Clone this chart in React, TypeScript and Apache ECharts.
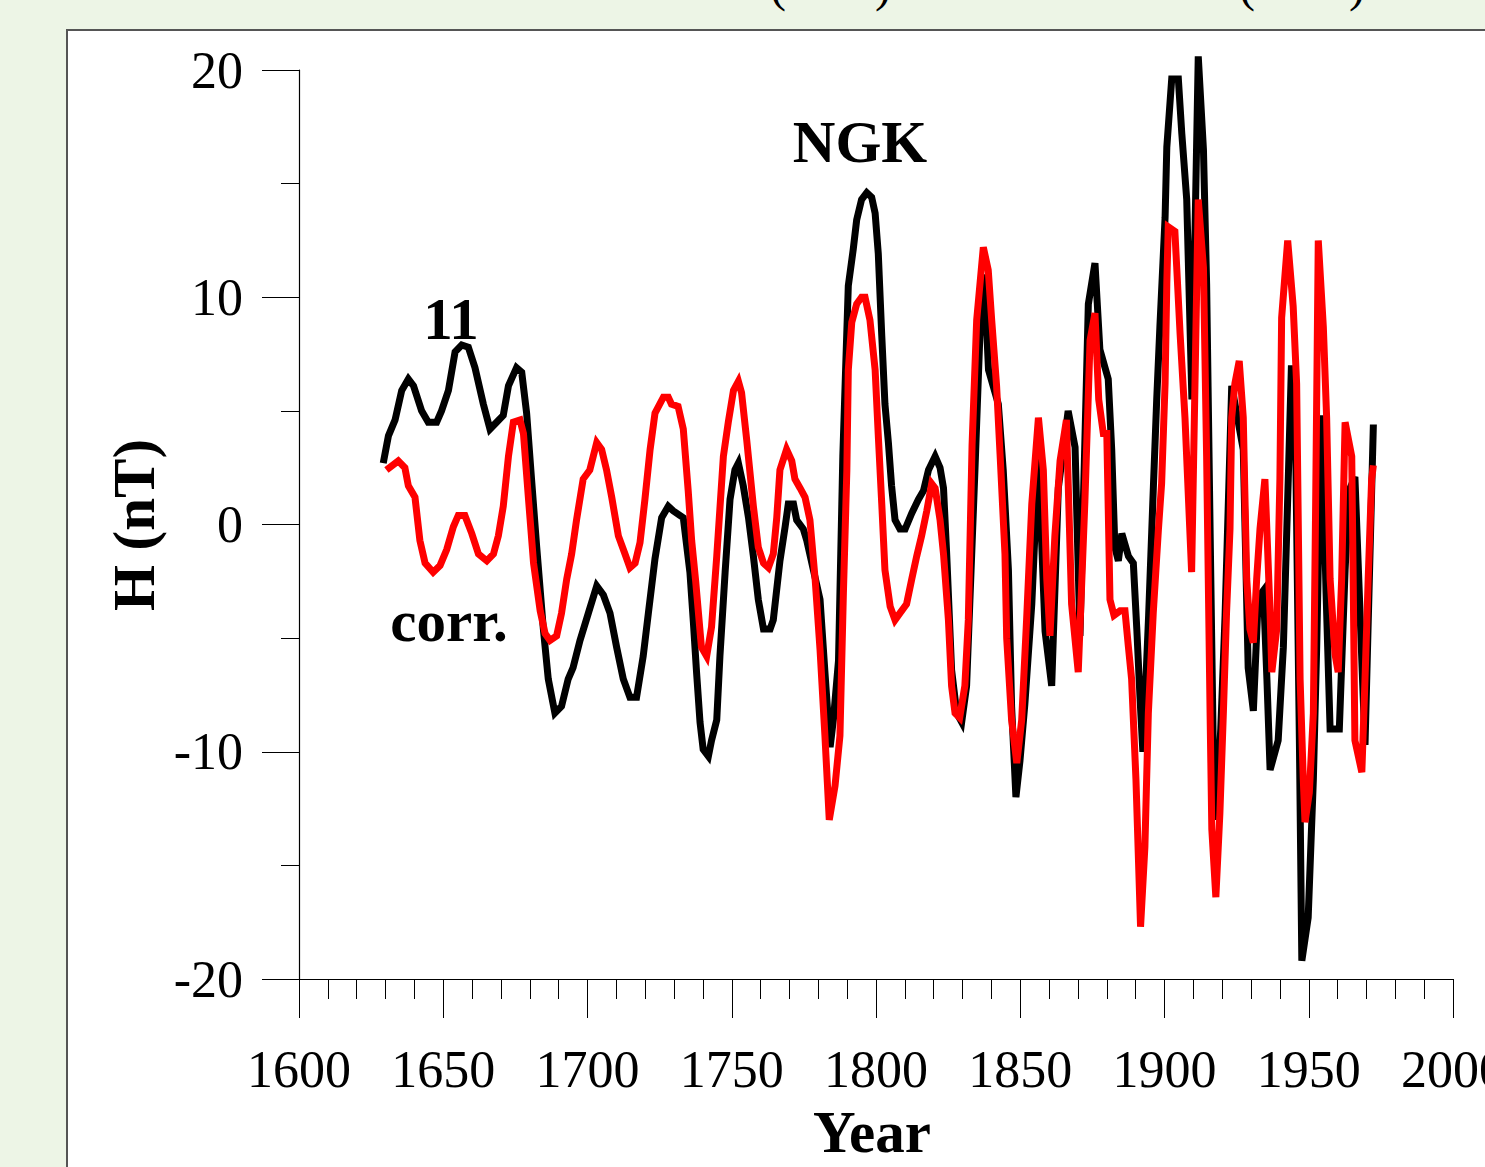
import React, { useEffect, useRef } from "react";
import * as echarts from "echarts";

const xTicks = { min: 1600, max: 2000, interval: 50 };
const yTicks = { min: -20, max: 20, interval: 10 };

const blackYears = [
  1629.2, 1631, 1633.3, 1635.6, 1637.9, 1639.7, 1642.5, 1644.8, 1647.7, 1649.4,
  1651.8, 1654.1, 1656.4, 1658.7, 1661, 1663.9, 1666.2, 1668.5, 1670.8, 1672.6,
  1675.4, 1677.2, 1678.9, 1680.6, 1682.4, 1684.7, 1686.4, 1688.7, 1691, 1693.3,
  1695, 1697.4, 1700.3, 1703.2, 1705.5, 1707.8, 1710.1, 1712.4, 1714.7, 1717,
  1719.3, 1721.1, 1723.4, 1725.7, 1728, 1729.7, 1732, 1733.2, 1735.5, 1736.7,
  1737.8, 1739, 1740.1, 1741.9, 1743, 1744.8, 1745.9, 1747.7, 1749.4, 1751.1,
  1752.3, 1754, 1755.8, 1757.5, 1759.2, 1761, 1763.3, 1764.4, 1766.7, 1768.5,
  1769.6, 1771.4, 1772.5, 1774.8, 1776, 1778.3, 1780.6, 1782.3, 1784.1, 1785.3,
  1787, 1788.5, 1790.4, 1792.1, 1793.3, 1795, 1796.8, 1798.5, 1799.7, 1800.8,
  1802, 1803.1, 1804.3, 1805.4, 1806.6, 1808.3, 1810.1, 1812.4, 1814.7, 1816.5,
  1818.2, 1820.5, 1822.2, 1823.4, 1824.5, 1826.2, 1828, 1829.7, 1831.4, 1832.5,
  1834.3, 1836, 1837.5, 1839, 1842.4, 1844.1, 1845.9, 1847, 1848.5, 1849.9,
  1851.6, 1854, 1856.3, 1858.6, 1860.9, 1863.2, 1866.6, 1869, 1870.7, 1873.6,
  1875.9, 1877.6, 1880.5, 1881.7, 1882.8, 1884, 1885.2, 1887.5, 1889.2, 1890.4,
  1891.5, 1892.5, 1894.5, 1896.1, 1897.3, 1898.4, 1900.2, 1900.8, 1902.5, 1904.8,
  1906, 1907.7, 1909.5, 1911.7, 1913.5, 1914.6, 1915.8, 1916.9, 1917.8, 1919.5,
  1921, 1923.3, 1927.3, 1929, 1930.8, 1932.5, 1934.3, 1935.5, 1936.6, 1939.4,
  1941.2, 1942.9, 1944, 1945.5, 1946.8, 1947.6, 1949.8, 1951.6, 1952.75, 1953.9,
  1954.5, 1956, 1957.4, 1960.6, 1962.6, 1964, 1966, 1969.5, 1972.4,
];
const blackValues = [
  2.7, 3.9, 4.6, 5.9, 6.4, 6.1, 5.0, 4.5, 4.5, 5.0,
  5.9, 7.6, 7.9, 7.8, 6.9, 5.3, 4.2, 4.5, 4.8, 6.1,
  6.9, 6.7, 4.9, 2.0, -1.0, -4.6, -6.8, -8.3, -8.0, -6.8,
  -6.3, -5.1, -3.9, -2.7, -3.1, -3.9, -5.4, -6.8, -7.6, -7.6,
  -5.8, -3.9, -1.5, 0.3, 0.8, 0.6, 0.4, 0.3, -2.1, -4.3,
  -6.5, -8.7, -9.9, -10.2, -9.5, -8.6, -5.8, -2.1, 1.1, 2.4,
  2.7, 1.7, 0.3, -1.4, -3.3, -4.6, -4.6, -4.2, -1.6, -0.1,
  0.9, 0.9, 0.2, -0.2, -0.7, -2.0, -3.3, -6.5, -9.8, -8.5,
  -6.0, 3.0, 10.5, 12.1, 13.4, 14.3, 14.6, 14.4, 13.7, 11.9,
  8.3, 5.3, 3.6, 1.7, 0.2, -0.2, -0.2, 0.5, 1.1, 1.5,
  2.4, 3.0, 2.5, 1.6, -1.3, -6.4, -8.3, -8.7, -7.1, -3.5,
  2.4, 8.3, 11.0, 6.8, 5.3, 2.4, -2.0, -8.0, -12.0, -10.4,
  -7.9, -3.5, 3.0, -4.7, -7.1, 1.6, 5.0, 3.4, -4.9, 9.7,
  11.5, 7.7, 6.4, 3.3, -1.0, -1.6, -0.4, -1.4, -1.7, -4.6,
  -7.6, -10.0, -4.0, 1.5, 5.5, 8.7, 13.5, 16.6, 19.6, 19.6,
  17.2, 14.3, 5.5, 20.6, 16.5, 10.6, -0.2, -9.8, -13.0, -9.0,
  -4.0, 6.1, 3.3, -6.3, -8.2, -3.2, -2.9, -6.8, -10.8, -9.5,
  -5.4, 2.0, 7.0, 3.0, -10.0, -19.2, -17.3, -11.2, -5.4, 2.0,
  4.8, -3.0, -9.0, -9.0, -2.0, 1.5, 2.1, -9.7, 4.4,
];

const redYears = [
  1630.3, 1634.4, 1636.7, 1637.9, 1640.2, 1641.9, 1643.7, 1646.5, 1648.9, 1651.2,
  1653.5, 1655.2, 1657.5, 1659.9, 1662.2, 1665.1, 1667.4, 1669.1, 1670.8, 1672.6,
  1674.3, 1676.6, 1677.8, 1679.5, 1681.3, 1683.6, 1685.3, 1687, 1689.3, 1691,
  1692.8, 1694.5, 1696.2, 1698.5, 1700.8, 1703.2, 1704.9, 1706.6, 1708.4, 1710.7,
  1713, 1714.7, 1716.5, 1718.2, 1719.9, 1721.7, 1723.4, 1726.3, 1728, 1729.1,
  1731.4, 1733.2, 1734.9, 1736.1, 1737.5, 1739.5, 1741.3, 1743, 1744.8, 1747.1,
  1748.8, 1750.6, 1752.3, 1753.4, 1755.2, 1757.5, 1759.2, 1761, 1762.7, 1764.4,
  1765.6, 1766.7, 1769, 1770.8, 1771.9, 1773.7, 1775.4, 1777.1, 1778.9, 1780.6,
  1782.3, 1783.8, 1785.8, 1787.5, 1788.7, 1789.9, 1790.4, 1791.6, 1793.3, 1795,
  1796.2, 1797.9, 1799.7, 1800.8, 1802, 1803.1, 1804.9, 1806.6, 1808.3, 1810.6,
  1812.4, 1814.1, 1815.8, 1817.6, 1819.3, 1820.5, 1822.2, 1823.4, 1825.1, 1826.2,
  1827.4, 1829, 1830.8, 1832, 1833.3, 1834.9, 1837.2, 1838.9, 1840.1, 1841.8,
  1843, 1844.7, 1845.3, 1847, 1848.8, 1850.5, 1852.2, 1854, 1856.3, 1858,
  1859.2, 1860.3, 1862, 1863.8, 1866, 1867.8, 1870.1, 1872.4, 1874.2, 1875.9,
  1877.2, 1878.8, 1880, 1881.1, 1882.5, 1884.6, 1886.3, 1887.5, 1888.6, 1890.1,
  1891.7, 1893.2, 1894.4, 1896.1, 1897.9, 1899, 1900.2, 1900.8, 1901.3, 1903.6,
  1905.4, 1907.1, 1909.4, 1911.7, 1913.5, 1914.6, 1915.8, 1916.4, 1917.8, 1919.2,
  1920.4, 1921.5, 1922.7, 1923.3, 1924.4, 1925.9, 1927.3, 1928.5, 1929.6, 1930.8,
  1931.95, 1933.1, 1934.8, 1936.6, 1937.2, 1938.9, 1940, 1940.6, 1942.7, 1944.6,
  1945.8, 1947, 1948.1, 1948.7, 1950.2, 1951.6, 1952.4, 1953.3, 1955.05, 1956.2,
  1957.4, 1959.1, 1960.2, 1961.4, 1962.6, 1964.9, 1965.4, 1966, 1968.4, 1969.5,
  1970.6, 1971.8, 1972.4,
];
const redValues = [
  2.4, 2.8, 2.5, 1.7, 1.2, -0.7, -1.7, -2.1, -1.8, -1.1,
  -0.1, 0.4, 0.4, -0.4, -1.3, -1.6, -1.3, -0.5, 0.8, 3.0,
  4.5, 4.6, 4.0, 1.2, -1.7, -3.8, -4.8, -5.1, -4.9, -3.9,
  -2.4, -1.3, 0.2, 2.0, 2.4, 3.6, 3.3, 2.4, 1.2, -0.5,
  -1.3, -1.9, -1.7, -0.8, 1.1, 3.3, 4.9, 5.6, 5.6, 5.3,
  5.2, 4.2, 1.5, -0.7, -2.5, -5.4, -5.8, -4.5, -1.4, 3.0,
  4.5, 5.9, 6.3, 5.8, 3.7, 0.8, -1.0, -1.7, -1.9, -1.3,
  0.3, 2.4, 3.3, 2.8, 2.0, 1.6, 1.2, 0.2, -2.4, -5.5,
  -9.3, -13.0, -11.5, -9.3, -3.0, 2.4, 6.8, 8.9, 9.7, 10.0,
  10.0, 9.0, 6.8, 3.9, 0.9, -2.0, -3.6, -4.2, -3.9, -3.5,
  -2.4, -1.4, -0.5, 0.6, 1.8, 1.6, 0.2, -1.3, -4.2, -7.1,
  -8.3, -8.5, -7.1, -4.2, 3.5, 9.0, 12.2, 11.2, 9.0, 6.1,
  3.1, -1.3, -5.0, -8.6, -10.5, -8.6, -4.2, 0.9, 4.7, 2.4,
  -2.4, -4.9, -0.5, 2.8, 4.6, -3.5, -6.5, 1.0, 8.1, 9.3,
  5.5, 4.0, 4.0, -3.3, -4.0, -3.8, -3.8, -5.4, -6.8, -11.2,
  -17.7, -14.2, -8.3, -3.9, -0.2, 1.8, 6.2, 10.6, 13.1, 12.9,
  8.4, 4.7, -2.1, 14.3, 11.3, 3.0, -8.3, -13.4, -16.4, -12.7,
  -8.3, -3.9, -0.2, 4.7, 6.2, 7.2, 4.7, -2.4, -4.6, -5.2,
  -2.4, -0.2, 2.0, -3.9, -6.5, -4.6, 2.0, 9.1, 12.5, 9.6,
  6.2, -6.8, -11.2, -13.1, -11.8, -8.3, 1.0, 12.5, 8.7, 4.7,
  -2.4, -5.7, -6.5, -2.4, 4.5, 3.0, -2.4, -9.5, -10.9, -6.8,
  -2.4, 2.0, 2.6,
];

const FONT = '"Liberation Serif", "Times New Roman", serif';

export default function App() {
  const ref = useRef<HTMLDivElement>(null);

  useEffect(() => {
    if (!ref.current) return;
    document.body.style.margin = "0";
    const chart = echarts.init(ref.current, undefined, { renderer: "svg" });

    const black = blackYears.map((y, i) => [y, blackValues[i]]);
    const red = redYears.map((y, i) => [y, redValues[i]]);

    const boldText = (text: string, x: number, y: number, extra: any = {}) => ({
      type: "text",
      x,
      y,
      z: 10,
      style: {
        text,
        fill: "#000",
        font: `bold 59px ${FONT}`,
        align: "center",
        verticalAlign: "middle",
      },
      ...extra,
    });
    const paren = (text: string, x: number) => ({
      type: "text",
      x,
      y: -16,
      z: 10,
      style: {
        text,
        fill: "#000",
        font: `48px ${FONT}`,
        align: "center",
        verticalAlign: "middle",
      },
    });

    chart.setOption({
      animation: false,
      backgroundColor: "#edf5e6",
      grid: {
        left: 299,
        top: 70,
        width: 1154,
        height: 909,
        containLabel: false,
        outerBoundsMode: "none",
      },
      graphic: [
        {
          type: "rect",
          z: -10,
          shape: { x: 67, y: 30, width: 1500, height: 1200 },
          style: { fill: "#ffffff", stroke: "#555555", lineWidth: 2 },
        },
        paren("(", 778),
        paren(")", 883),
        paren("(", 1247),
        paren(")", 1357),
        boldText("H (nT)", 134, 525, { rotation: Math.PI / 2 }),
        boldText("Year", 872, 1132),
        boldText("NGK", 860, 142),
        boldText("11", 451, 319),
        boldText("corr.", 449, 621),
      ],
      xAxis: {
        type: "value",
        min: xTicks.min,
        max: xTicks.max,
        interval: xTicks.interval,
        splitLine: { show: false },
        axisLine: { show: true, onZero: false, lineStyle: { color: "#000", width: 1.2 } },
        axisTick: { show: true, inside: false, length: 39, lineStyle: { color: "#000", width: 1 } },
        minorTick: { show: true, splitNumber: 5, length: 20, lineStyle: { color: "#000", width: 1 } },
        minorSplitLine: { show: false },
        axisLabel: {
          color: "#000",
          fontFamily: FONT,
          fontSize: 52,
          margin: 64,
          showMinLabel: true,
          showMaxLabel: true,
          hideOverlap: false,
          formatter: (v: number) => String(v),
        },
      },
      yAxis: {
        type: "value",
        min: yTicks.min,
        max: yTicks.max,
        interval: yTicks.interval,
        splitLine: { show: false },
        axisLine: { show: true, onZero: false, lineStyle: { color: "#000", width: 1.2 } },
        axisTick: { show: true, inside: false, length: 37, lineStyle: { color: "#000", width: 1 } },
        minorTick: { show: true, splitNumber: 2, length: 18, lineStyle: { color: "#000", width: 1 } },
        minorSplitLine: { show: false },
        axisLabel: {
          color: "#000",
          fontFamily: FONT,
          fontSize: 52,
          margin: 56,
          formatter: (v: number) => String(v),
        },
      },
      series: [
        {
          type: "line",
          name: "NGK",
          data: black,
          showSymbol: false,
          clip: false,
          lineStyle: { color: "#000000", width: 7, join: "miter" },
          z: 3,
        },
        {
          type: "line",
          name: "corr.",
          data: red,
          showSymbol: false,
          clip: false,
          lineStyle: { color: "#ff0000", width: 7, join: "miter" },
          z: 4,
        },
      ],
    });

    return () => chart.dispose();
  }, []);

  return (
    <div
      ref={ref}
      style={{ position: "absolute", left: 0, top: 0, width: 1485, height: 1167 }}
    />
  );
}
